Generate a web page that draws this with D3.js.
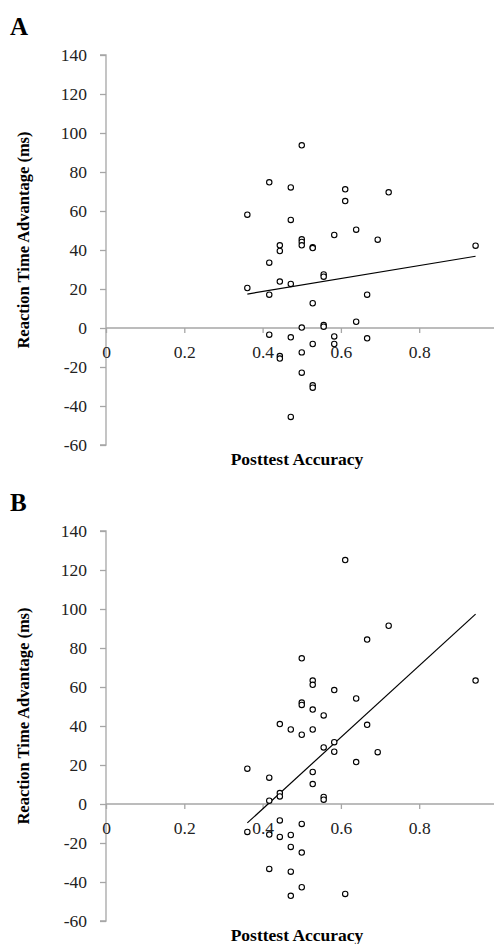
<!DOCTYPE html>
<html>
<head>
<meta charset="utf-8">
<script src="https://cdn.jsdelivr.net/npm/d3@7"></script>
<style>
  html, body { margin: 0; padding: 0; background: #fff; }
  svg { display: block; }
  svg text { font-family: "Liberation Serif", "Times New Roman", Times, serif; }
</style>
</head>
<body>
<div id="chart"></div>
<script>
/* Two scatter panels: posttest accuracy vs reaction time advantage. */

var yTicks = [-60, -40, -20, 0, 20, 40, 60, 80, 100, 120, 140];
var xTicks = [0, 0.2, 0.4, 0.6, 0.8, 1];

var accA = [0.5, 0.417, 0.472, 0.611, 0.722, 0.611, 0.361, 0.472, 0.639, 0.583, 0.694, 0.5, 0.5, 0.5, 0.444,
  0.444, 0.528, 0.528, 0.944, 0.417, 0.556, 0.556, 0.444, 0.472, 0.361, 0.417, 0.667, 0.528, 0.556, 0.556,
  0.639, 0.5, 0.417, 0.472, 0.583, 0.667, 0.528, 0.583, 0.5, 0.444, 0.444, 0.5, 0.528, 0.528, 0.472];
var rtA = [93.7, 74.7, 72.1, 71.1, 69.6, 65.1, 58.1, 55.4, 50.4, 47.7, 45.3, 45.5, 44.1, 42.4, 42.4,
  39.5, 41.4, 41.0, 42.2, 33.5, 27.5, 26.3, 23.8, 22.6, 20.5, 17.1, 17.1, 12.7, 1.5, 0.7,
  3.2, 0.2, -3.4, -4.8, -4.3, -5.3, -8.2, -8.2, -12.5, -14.4, -15.7, -22.9, -29.4, -30.6, -45.6];
var trendA = [[0.361, 17.4], [0.944, 36.8]];

var accB = [0.611, 0.722, 0.667, 0.5, 0.528, 0.528, 0.944, 0.583, 0.639, 0.5, 0.5, 0.528, 0.556, 0.444, 0.667,
  0.472, 0.528, 0.5, 0.583, 0.556, 0.583, 0.694, 0.639, 0.361, 0.528, 0.417, 0.528, 0.444, 0.444, 0.556,
  0.556, 0.417, 0.361, 0.444, 0.5, 0.417, 0.444, 0.472, 0.472, 0.5, 0.417, 0.472, 0.5, 0.611, 0.472];
var rtB = [125.1, 91.4, 84.3, 74.7, 63.3, 61.1, 63.3, 58.4, 54.1, 52.0, 50.8, 48.4, 45.4, 41.0, 40.6,
  38.2, 38.2, 35.5, 31.7, 29.0, 26.8, 26.6, 21.5, 18.1, 16.4, 13.5, 10.2, 5.6, 3.9, 3.6,
  2.2, 1.7, -14.3, -8.4, -10.2, -15.7, -16.9, -15.9, -22.0, -24.9, -33.3, -34.7, -42.7, -46.1, -47.1];
var trendB = [[0.361, -9.7], [0.944, 97.4]];

var width = 494, height = 944;
var font = "'Liberation Serif', 'Times New Roman', Times, serif";
var axisColor = "#a6a6a6";

var svg = d3.select("#chart").append("svg")
  .attr("width", width).attr("height", height)
  .attr("viewBox", "0 0 " + width + " " + height);

function panel(letter, top, xs, ys, trend) {
  var g = svg.append("g").attr("transform", "translate(0," + top + ")");

  var x = d3.scaleLinear().domain([0, 1]).range([106, 497.5]);
  var y = d3.scaleLinear().domain([-60, 140]).range([445, 55]);

  // panel letter
  g.append("text")
    .attr("x", 10).attr("y", 35)
    .style("font-family", font).attr("font-size", 25).attr("font-weight", 700)
    .text(letter);

  // y axis on x = 0
  var yAxis = g.append("g")
    .attr("transform", "translate(" + x(0) + ",0)")
    .call(d3.axisLeft(y).tickValues(yTicks).tickSize(6).tickPadding(13).tickFormat(function (d) { return String(d); }));

  // x axis on y = 0
  var xAxis = g.append("g")
    .attr("transform", "translate(0," + y(0) + ")")
    .call(d3.axisBottom(x).tickValues(xTicks).tickSize(5).tickPadding(13).tickFormat(function (d) { return String(d); }));

  [yAxis, xAxis].forEach(function (a) {
    a.attr("font-family", null);
    a.select(".domain").attr("stroke", axisColor).attr("stroke-width", 1.3);
    a.selectAll(".tick line").attr("stroke", axisColor).attr("stroke-width", 1.3);
    a.selectAll(".tick text")
      .style("font-family", font).attr("font-size", 17.5).attr("fill", "#222");
  });
  // Excel style: axis lines have no end caps
  yAxis.select(".domain").attr("d", "M-6," + y(140) + "H0V" + y(-60) + "H-6");
  xAxis.select(".domain").attr("d", "M" + x(0) + ",0H" + width);

  // trend line
  g.append("line")
    .attr("x1", x(trend[0][0])).attr("y1", y(trend[0][1]))
    .attr("x2", x(trend[1][0])).attr("y2", y(trend[1][1]))
    .attr("stroke", "#000").attr("stroke-width", 1.2);

  // points
  g.selectAll("circle.pt").data(xs).enter().append("circle")
    .attr("class", "pt")
    .attr("cx", function (d) { return x(d); })
    .attr("cy", function (_d, i) { return y(ys[i]); })
    .attr("r", 2.7)
    .attr("fill", "#fff")
    .attr("stroke", "#000")
    .attr("stroke-width", 1.1);

  // axis titles
  g.append("text")
    .attr("x", 297).attr("y", 465)
    .attr("text-anchor", "middle")
    .style("font-family", font).attr("font-size", 17.5).attr("font-weight", 700)
    .text("Posttest Accuracy");

  g.append("text")
    .attr("transform", "translate(29,240) rotate(-90)")
    .attr("text-anchor", "middle")
    .style("font-family", font).attr("font-size", 16.5).attr("font-weight", 700)
    .text("Reaction Time Advantage (ms)");
}

panel("A", 0, accA, rtA, trendA);
panel("B", 476, accB, rtB, trendB);
</script>
</body>
</html>
